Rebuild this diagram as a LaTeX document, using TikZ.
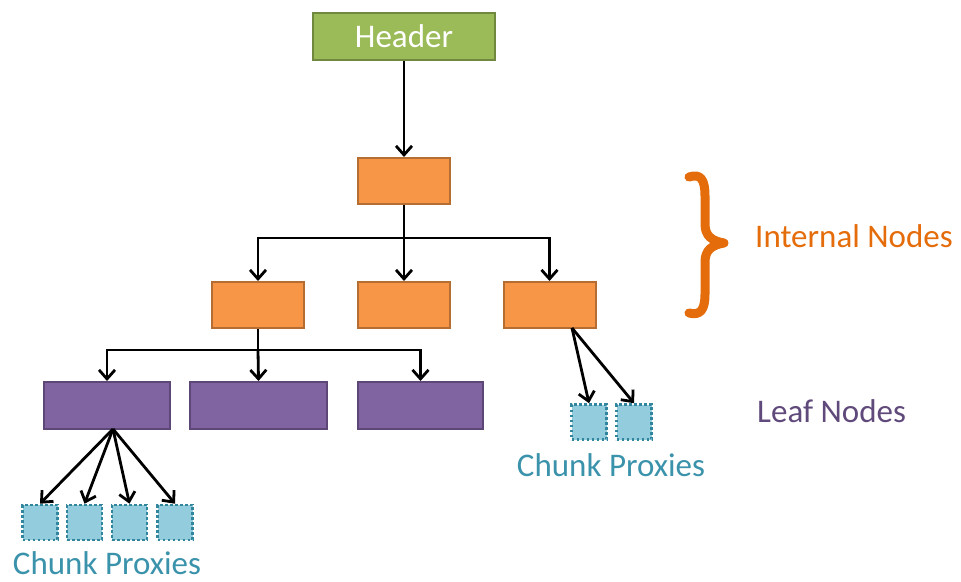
\documentclass[tikz,border=0pt]{standalone}
\usepackage{fontspec}
\setmainfont{Carlito}
\usetikzlibrary{arrows.meta}
\definecolor{hdrfill}{HTML}{9BBB59}
\definecolor{hdrline}{HTML}{71893F}
\definecolor{intfill}{HTML}{F79646}
\definecolor{intline}{HTML}{B66D31}
\definecolor{leaffill}{HTML}{8064A2}
\definecolor{leafline}{HTML}{5C4776}
\definecolor{pxfill}{HTML}{93CDDD}
\definecolor{pxline}{HTML}{31859C}
\definecolor{bracecol}{HTML}{E46C0A}
\definecolor{leaftext}{HTML}{604A7B}
\definecolor{pxtext}{HTML}{3A92AB}
\tikzset{
  box/.style={draw, line width=2pt, inner sep=0pt, rectangle},
  hdrbox/.style={box, fill=hdrfill, draw=hdrline, minimum width=182pt, minimum height=47pt,
    text=white, font=\fontsize{33}{36}\selectfont},
  intbox/.style={box, fill=intfill, draw=intline, minimum width=92pt, minimum height=46pt},
  leafbox/.style={box, fill=leaffill, draw=leafline, minimum height=47pt},
  proxy/.style={fill=pxfill, draw=pxline, line width=2.6pt, dash pattern=on 2.6pt off 2.4pt,
    inner sep=0pt, minimum width=35pt, minimum height=35pt},
  arr/.style={draw=black, line width=2.8pt, -{Straight Barb[length=9pt,width=16pt]}},
  lbl/.style={font=\fontsize{33}{36}\selectfont, anchor=base west, inner sep=0pt},
  clbl/.style={font=\fontsize{33}{36}\selectfont, anchor=base, inner sep=0pt, text=pxtext},
}
\begin{document}
\begin{tikzpicture}[x=1pt, y=-1pt]
\useasboundingbox (0,0) rectangle (961,581);

% tree boxes
\node[hdrbox] (hdr) at (404,36) {Header};
\node[intbox] (r) at (404,181) {};
\node[intbox] (a) at (258,305) {};
\node[intbox] (b) at (404,305) {};
\node[intbox] (c) at (549.5,305) {};
\node[leafbox, minimum width=126pt] (l1) at (107,405.5) {};
\node[leafbox, minimum width=137pt] (l2) at (258.5,405.5) {};
\node[leafbox, minimum width=125pt] (l3) at (420.5,405.5) {};

% chunk proxies
\node[proxy] (p1) at (40,522.5) {};
\node[proxy] (p2) at (84.5,522.5) {};
\node[proxy] (p3) at (129.5,522.5) {};
\node[proxy] (p4) at (175,522.5) {};
\node[proxy] (q1) at (589,422) {};
\node[proxy] (q2) at (634,422) {};

% connectors
\draw[arr] (hdr.south) -- (r.north);
\coordinate (rbar) at (404,238);
\draw[arr] (r.south) -- (rbar) -| (a.north);
\draw[arr] (rbar) -- (b.north);
\draw[arr] (rbar) -| (c.north);
\coordinate (abar) at (258,350);
\draw[arr] (a.south) -- (abar) -| (l1.north);
\draw[arr] (abar) -- (l2.north);
\draw[arr] (abar) -| (l3.north);

\coordinate (l1out) at (113,429);
\draw[arr] (l1out) -- (p1.north);
\draw[arr] (l1out) -- (p2.north);
\draw[arr] (l1out) -- (p3.north);
\draw[arr] (l1out) -- (p4.north);
\coordinate (cout) at (572,328);
\draw[arr] (cout) -- (q1.north);
\draw[arr] (cout) -- (q2.north);

% brace and labels
\draw[bracecol, line width=9pt, line cap=round, line join=round]
  (689,177) .. controls (701,173) and (705,180) .. (705,196) -- (705,224)
  .. controls (705,236) and (712,241) .. (724,243)
  .. controls (712,245) and (705,250) .. (705,262) -- (705,294)
  .. controls (705,309) and (701,316) .. (689,313);
\node[lbl, text=bracecol] (intl) at (755,247) {Internal Nodes};
\node[lbl, text=leaftext] (leafl) at (757,422) {Leaf Nodes};
\node[clbl] (cp1) at (107,574) {Chunk Proxies};
\node[clbl] (cp2) at (611,476) {Chunk Proxies};
\end{tikzpicture}
\end{document}
